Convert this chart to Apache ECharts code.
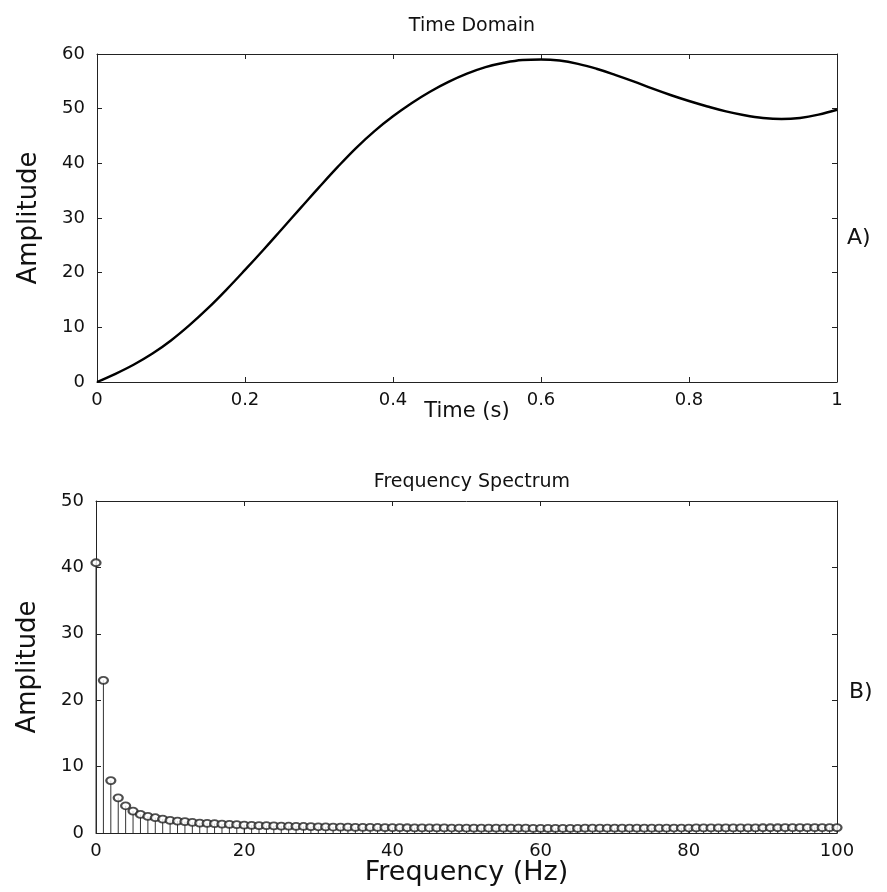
<!DOCTYPE html>
<html>
<head>
<meta charset="utf-8">
<script src="https://cdn.jsdelivr.net/npm/echarts@6/dist/echarts.min.js"></script>
<style>
html,body{margin:0;padding:0;background:#fff;}
#c{width:887px;height:892px;}
</style>
</head>
<body>
<div id="c"></div>
<script>
// Time-domain signal (t in s, amplitude)
const timeValues = [0,0.025,0.05,0.075,0.1,0.125,0.15,0.175,0.2,0.225,0.25,0.275,0.3,0.325,0.35,0.375,0.4,0.425,0.45,0.475,0.5,0.525,0.55,0.575,0.6,0.625,0.65,0.675,0.7,0.725,0.75,0.775,0.8,0.825,0.85,0.875,0.9,0.925,0.95,0.975,1.0];
const timeAmplitude = [0,1.5,3.2,5.2,7.6,10.4,13.5,16.9,20.5,24.2,28.0,31.8,35.6,39.3,42.8,45.9,48.6,51.0,53.1,54.9,56.4,57.6,58.4,58.9,59.0,58.8,58.2,57.3,56.2,55.0,53.7,52.5,51.4,50.4,49.5,48.8,48.3,48.1,48.3,48.9,49.8];

// Frequency spectrum (Hz 0..100)
const freqValues = [0,1,2,3,4,5,6,7,8,9,10,11,12,13,14,15,16,17,18,19,20,21,22,23,24,25,26,27,28,29,30,31,32,33,34,35,36,37,38,39,40,41,42,43,44,45,46,47,48,49,50,51,52,53,54,55,56,57,58,59,60,61,62,63,64,65,66,67,68,69,70,71,72,73,74,75,76,77,78,79,80,81,82,83,84,85,86,87,88,89,90,91,92,93,94,95,96,97,98,99,100];
const specAmplitude = [
 40.7,23.0,7.9,5.3,4.1,3.3,2.8,2.5,2.3,2.1,1.9,1.8,1.7,1.6,1.5,1.45,1.4,1.35,1.3,1.25,1.2,
 1.15,1.12,1.1,1.07,1.05,1.02,1.0,0.98,0.96,0.94,0.92,0.9,0.89,0.88,0.86,0.85,0.84,0.83,0.82,0.81,
 0.8,0.79,0.78,0.78,0.77,0.76,0.76,0.75,0.75,0.74,0.74,0.73,0.73,0.73,0.72,0.72,0.72,0.72,0.71,0.71,
 0.71,0.71,0.71,0.71,0.71,0.72,0.72,0.72,0.72,0.72,0.73,0.73,0.73,0.73,0.74,0.74,0.74,0.75,0.75,0.75,
 0.76,0.76,0.76,0.77,0.77,0.77,0.78,0.78,0.78,0.79,0.79,0.79,0.8,0.8,0.8,0.8,0.81,0.81,0.81,0.82
];

const FONT = 'DejaVu Sans';
const tickFont = {color:'#111', fontFamily:FONT, fontSize:18};
const axisLine = {show:true, onZero:false, lineStyle:{color:'#222', width:1}};
const tickIn = {show:true, inside:true, length:5, lineStyle:{color:'#222'}};

function xAxisPair(gi, min, max, interval, name, gap, nameSize){
  return [
    {gridIndex:gi, type:'value', min:min, max:max, interval:interval, position:'bottom',
     axisLine:axisLine, axisTick:tickIn, splitLine:{show:false},
     axisLabel:Object.assign({margin:9}, tickFont),
     name:name, nameLocation:'middle', nameGap:gap, nameMoveOverlap:false,
     nameTextStyle:{color:'#111', fontFamily:FONT, fontSize:nameSize}},
    {gridIndex:gi, type:'value', min:min, max:max, interval:interval, position:'top',
     axisLine:axisLine, axisTick:tickIn, splitLine:{show:false}, axisLabel:{show:false}}
  ];
}
function yAxisPair(gi, min, max, interval){
  return [
    {gridIndex:gi, type:'value', min:min, max:max, interval:interval, position:'left',
     axisLine:axisLine, axisTick:tickIn, splitLine:{show:false},
     axisLabel:Object.assign({margin:12}, tickFont),
     name:'Amplitude', nameLocation:'middle', nameGap:55, nameRotate:90,
     nameTextStyle:{color:'#111', fontFamily:FONT, fontSize:26}},
    {gridIndex:gi, type:'value', min:min, max:max, interval:interval, position:'right',
     axisLine:axisLine, axisTick:tickIn, splitLine:{show:false}, axisLabel:{show:false}}
  ];
}

const chart = echarts.init(document.getElementById('c'), null, {renderer:'canvas'});
chart.setOption({
  backgroundColor:'#fff',
  animation:false,
  title:[
    {text:'Time Domain', left:467, top:12, textAlign:'center',
     textStyle:{fontFamily:FONT, fontSize:19, fontWeight:'normal', color:'#111'}},
    {text:'Frequency Spectrum', left:467, top:468, textAlign:'center',
     textStyle:{fontFamily:FONT, fontSize:19, fontWeight:'normal', color:'#111'}},
    {text:'A)', left:842, top:222,
     textStyle:{fontFamily:FONT, fontSize:22, fontWeight:'normal', color:'#111'}},
    {text:'B)', left:844, top:676,
     textStyle:{fontFamily:FONT, fontSize:22, fontWeight:'normal', color:'#111'}}
  ],
  grid:[
    {left:97, right:50, top:54, height:328},
    {left:96, right:50, top:501, height:332}
  ],
  xAxis: xAxisPair(0,0,1,0.2,'Time (s)',19,21).concat(xAxisPair(1,0,100,20,'Frequency (Hz)',26,27)),
  yAxis: yAxisPair(0,0,60,10).concat(yAxisPair(1,0,50,10)),
  series:[
    {type:'line', xAxisIndex:0, yAxisIndex:0, showSymbol:false, smooth:0.4,
     lineStyle:{color:'#000', width:2.4},
     data: timeValues.map((t,i)=>[t, timeAmplitude[i]])},
    {type:'bar', xAxisIndex:2, yAxisIndex:2, barWidth:1,
     itemStyle:{color:'#333'},
     data: freqValues.map((f,i)=>[f, specAmplitude[i]])},
    {type:'scatter', xAxisIndex:2, yAxisIndex:2, symbol:'emptyCircle', symbolSize:[9,7],
     itemStyle:{color:'#222', borderColor:'#222', borderWidth:0.8}, z:5,
     data: freqValues.map((f,i)=>[f, specAmplitude[i]])}
  ]
});
</script>
</body>
</html>
